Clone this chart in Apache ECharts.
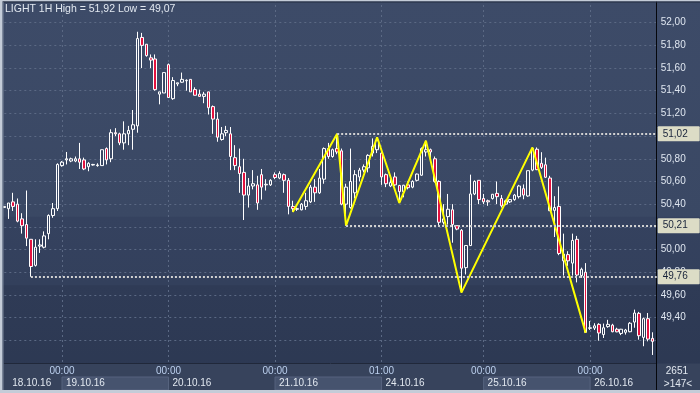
<!DOCTYPE html>
<html><head><meta charset="utf-8">
<script src="https://cdn.jsdelivr.net/npm/echarts@6/dist/echarts.min.js"></script>
<style>html,body{margin:0;padding:0;background:#37445f;}#c{width:700px;height:393px;}</style>
</head><body><div id="c"></div>
<script>
// ---- data ----
const dayNames = ['18.10.16','19.10.16','20.10.16','21.10.16','24.10.16','25.10.16','26.10.16'];
const dayStartIdx = [0, 13, 37, 61, 85, 108, 132];
const dayStartHour = [11, 0, 0, 0, 1, 0, 0];

const opens = [50.37,50.36,50.42,50.40,50.27,50.22,50.09,49.86,50.03,50.02,50.14,50.30,50.36,50.74,50.79,50.78,50.78,50.80,50.79,50.73,
50.745,50.74,50.74,50.89,50.80,51.03,51.02,50.94,51.02,51.06,51.09,51.87,51.81,51.69,51.68,51.37,51.38,51.63,51.33,51.46,
51.475,51.488,51.50,51.41,51.37,51.35,51.39,51.26,51.15,50.97,51.03,51.02,50.81,50.73,50.68,50.48,50.56,50.57,50.66,50.57,
50.57,50.66,50.63,50.66,50.61,50.38,50.36,50.35,50.38,50.42,50.55,50.50,50.62,50.89,50.82,50.89,50.87,50.40,50.37,50.50,
50.64,50.70,50.72,50.85,50.88,50.85,50.66,50.56,50.64,50.565,50.51,50.57,50.55,50.61,50.655,50.86,50.88,50.80,50.60,50.24,
50.29,50.35,50.21,50.17,49.84,50.035,50.49,50.61,50.45,50.43,50.45,50.495,50.45,50.40,50.42,50.44,50.466,50.536,50.472,50.70,
50.884,50.76,50.747,50.63,50.345,50.38,49.90,49.955,49.88,50.09,49.77,49.80,49.305,49.307,49.34,49.25,49.32,49.333,49.297,49.26,
49.27,49.275,49.36,49.437,49.225,49.39,49.216];
const highs = [50.38,50.41,50.50,50.45,50.32,50.52,50.09,50.09,50.09,50.16,50.31,50.41,50.76,50.78,50.86,50.81,50.82,50.94,50.81,50.77,
50.755,50.76,50.88,50.90,51.06,51.07,51.03,51.13,51.09,51.23,51.92,51.91,51.81,51.72,51.72,51.39,51.56,51.64,51.52,51.47,
51.56,51.50,51.50,51.43,51.41,51.39,51.39,51.27,51.21,51.08,51.09,51.08,50.92,50.89,50.80,50.63,50.70,50.65,50.71,50.62,
50.62,50.68,50.69,50.67,50.63,50.43,50.37,50.41,50.50,50.57,50.62,50.71,50.90,50.94,50.89,51.02,50.89,50.58,50.89,50.70,
50.72,50.75,50.84,50.98,50.99,50.88,50.67,50.62,50.68,50.57,50.57,50.60,50.61,50.67,50.90,50.96,50.89,50.82,50.61,50.40,
50.49,50.40,50.21,50.18,50.04,50.66,50.61,50.61,50.49,50.44,50.49,50.60,50.48,50.44,50.445,50.49,50.57,50.574,50.695,50.90,
50.90,50.858,50.81,50.65,50.47,50.556,50.14,49.985,50.14,50.12,49.84,49.88,49.37,49.35,49.35,49.347,49.38,49.345,49.31,49.30,
49.30,49.36,49.47,49.45,49.40,49.44,49.27];
const lows = [50.37,50.27,50.34,50.24,50.14,50.03,49.76,49.85,49.97,50.01,50.09,50.28,50.34,50.73,50.75,50.77,50.77,50.71,50.70,50.69,
50.74,50.73,50.74,50.75,50.77,51.00,50.92,50.88,50.92,50.88,51.03,51.60,51.70,51.60,51.40,51.28,51.38,51.34,51.32,51.44,
51.47,51.40,51.39,51.36,51.35,51.29,51.19,51.02,50.95,50.96,51.00,50.70,50.70,50.50,50.26,50.37,50.53,50.35,50.44,50.52,
50.56,50.62,50.62,50.50,50.31,50.33,50.34,50.345,50.35,50.41,50.42,50.49,50.58,50.80,50.81,50.84,50.39,50.21,50.36,50.45,
50.60,50.68,50.68,50.82,50.85,50.57,50.55,50.55,50.56,50.41,50.46,50.53,50.54,50.60,50.65,50.82,50.79,50.59,50.21,50.22,
50.22,50.06,50.17,49.62,49.78,50.03,50.48,50.40,50.40,50.385,50.44,50.40,50.37,50.39,50.41,50.43,50.45,50.443,50.465,50.69,
50.70,50.71,50.63,50.34,50.11,49.95,49.77,49.855,49.77,49.71,49.75,49.265,49.29,49.29,49.196,49.22,49.31,49.27,49.27,49.245,
49.25,49.27,49.31,49.205,49.147,49.19,49.07];
const closes = [50.38,50.41,50.38,50.25,50.21,50.10,49.85,50.02,50.04,50.12,50.30,50.36,50.75,50.77,50.80,50.80,50.80,50.77,50.71,50.76,
50.75,50.745,50.88,50.79,51.03,51.02,50.94,51.02,51.05,51.10,51.86,51.80,51.71,51.67,51.41,51.39,51.56,51.34,51.49,51.47,
51.50,51.492,51.39,51.36,51.35,51.37,51.25,51.15,50.99,51.02,51.05,50.82,50.74,50.67,50.48,50.56,50.58,50.41,50.55,50.575,
50.61,50.635,50.67,50.61,50.38,50.36,50.355,50.40,50.43,50.55,50.50,50.63,50.89,50.82,50.88,50.86,50.40,50.55,50.60,50.66,
50.70,50.73,50.83,50.91,50.96,50.64,50.58,50.59,50.57,50.51,50.567,50.545,50.60,50.665,50.89,50.88,50.86,50.60,50.24,50.27,
50.355,50.22,50.18,49.835,50.035,50.49,50.60,50.44,50.42,50.42,50.487,50.466,50.385,50.43,50.44,50.48,50.56,50.48,50.695,50.89,
50.704,50.724,50.637,50.342,50.37,49.965,49.96,49.90,50.08,49.775,49.826,49.27,49.31,49.327,49.264,49.31,49.34,49.275,49.274,49.297,
49.29,49.35,49.44,49.24,49.39,49.21,49.19];

// zigzag turning points (candle index + whether it uses the high or the low)
const zigIdx  = [65, 75, 77, 84, 89, 95, 103, 119, 131];
const zigType = ['L','H','L','H','L','H','L','H','L'];
// horizontal level lines (start candle + high/low)
const levelIdx  = [75, 77, 6];
const levelType = ['H','L','L'];

// ---- derived ----
const N = opens.length;
const SLOTS = N + 1;
const categories = [];
for (let i = 0; i < SLOTS; i++) {
  let d = dayStartIdx.length - 1;
  while (d > 0 && i < dayStartIdx[d]) d--;
  const h = dayStartHour[d] + i - dayStartIdx[d];
  categories.push(dayNames[d] + ' ' + String(h).padStart(2, '0') + ':00');
}
const candleData = opens.map((o, i) => [o, closes[i], lows[i], highs[i]]);
const fmt = v => v.toFixed(2).replace('.', ',');
const pick = (ix, t) => t === 'H' ? highs[ix] : lows[ix];
const zigData = zigIdx.map((ix, k) => [ix, pick(ix, zigType[k])]);
const dayStartSet = new Set(dayStartIdx);
const bands = [];
for (let d = 1; d + 1 < dayStartIdx.length; d += 2) bands.push([dayStartIdx[d], dayStartIdx[d + 1]]);

const FONT = 'Liberation Sans';
const tagLabel = (bg) => ({
  show: true, position: 'end', formatter: '{b}', distance: 1,
  backgroundColor: bg, color: '#18233a', fontSize: 10, fontFamily: FONT,
  padding: [3, 12, 2, 5], borderRadius: 1
});
const levelLines = levelIdx.map((ix, k) => {
  const v = pick(ix, levelType[k]);
  return [{ coord: [ix, v], name: fmt(v) }, { coord: [SLOTS - 1, v], name: fmt(v) }];
});
const lastClose = closes[N - 1];
levelLines.push([
  { coord: [N - 2, lastClose], name: fmt(lastClose), lineStyle: { opacity: 0 }, label: tagLabel('#b9c0cb') },
  { coord: [SLOTS - 1, lastClose], name: fmt(lastClose) }
]);
const hi = Math.max(...highs), lo = Math.min(...lows);

const chart = echarts.init(document.getElementById('c'), null, { renderer: 'canvas' });
chart.setOption({
  animation: false,
  backgroundColor: {
    type: 'linear', x: 0, y: 0, x2: 0, y2: 1,
    colorStops: [
      { offset: 0, color: '#3d4b68' }, { offset: 0.55, color: '#3a4864' },
      { offset: 0.553, color: '#35425f' }, { offset: 0.724, color: '#33405c' },
      { offset: 0.727, color: '#2f3b56' }, { offset: 1, color: '#2c3852' }
    ]
  },
  textStyle: { fontFamily: FONT },
  grid: [
    { left: 4.3, right: 43.3, top: -7.1, height: 392.7 },
    { left: 4.3, right: 43.3, top: 377, height: 13 }
  ],
  xAxis: [
    { type: 'category', gridIndex: 0, position: 'bottom', data: categories, boundaryGap: false, offset: -22.6, z: 0,
      axisLine: { show: true, lineStyle: { color: '#0b0f18', width: 1 } },
      axisTick: { show: false }, axisLabel: { show: false },
      splitLine: { show: true, interval: (i) => i > 0 && dayStartSet.has(i),
        lineStyle: { color: '#5b6984', type: [2, 3], width: 1 } } },
    { type: 'category', gridIndex: 0, position: 'bottom', data: categories, boundaryGap: false, offset: -22.6, z: 6,
      axisLine: { show: false }, axisTick: { show: false }, splitLine: { show: false },
      axisLabel: { show: true, interval: (i) => i > 0 && dayStartSet.has(i), margin: 3,
        formatter: v => v.split(' ')[1], color: '#bcd0ee', fontSize: 10, fontFamily: FONT } },
    { type: 'category', gridIndex: 0, position: 'bottom', data: categories, boundaryGap: false, offset: -22.6, z: 6,
      axisLine: { show: false }, axisTick: { show: false }, splitLine: { show: false },
      axisLabel: { show: true, interval: (i) => dayStartSet.has(i), margin: 15, align: 'left',
        formatter: (v, i) => (i === 0 ? '{a|' : '{b|') + v.split(' ')[0] + '}',
        rich: {
          a: { padding: [0, 0, 0, 8], color: '#e2e8f0', fontSize: 10, fontFamily: FONT },
          b: { padding: [0, 0, 0, 4], color: '#e2e8f0', fontSize: 10, fontFamily: FONT }
        } } },
    { type: 'category', gridIndex: 1, position: 'bottom', data: categories, boundaryGap: false, show: false }
  ],
  yAxis: [
    { type: 'value', gridIndex: 0, position: 'right', min: 48.8, max: 52.2, interval: 0.2,
      axisLine: { show: true, lineStyle: { color: '#05070c', width: 1 } },
      axisTick: { show: false },
      axisLabel: { color: '#dfe6f0', fontSize: 10, fontFamily: FONT, margin: 4,
        formatter: v => (v < 49.3 || v > 52.05) ? '' : fmt(v) },
      splitLine: { show: true, lineStyle: { color: '#5b6984', type: [2, 3], width: 1 } } },
    { type: 'value', gridIndex: 1, min: 0, max: 1, show: false }
  ],
  series: [
    { type: 'candlestick', xAxisIndex: 0, yAxisIndex: 0, data: candleData, barWidth: 3, z: 2,
      itemStyle: { color: 'transparent', color0: '#e3123f', borderColor: '#ffffff', borderColor0: '#ffffff',
        borderColorDoji: '#ffffff', borderWidth: 1 },
      markLine: { symbol: ['none', 'none'], silent: true, animation: false,
        lineStyle: { color: '#d2d2d2', type: [2, 2], width: 2 },
        label: tagLabel('#dcdcc6'), emphasis: { disabled: true },
        data: levelLines } },
    { type: 'line', xAxisIndex: 0, yAxisIndex: 0, data: zigData, symbol: 'none', z: 3,
      lineStyle: { color: '#ffff00', width: 2 }, silent: true },
    { type: 'line', xAxisIndex: 3, yAxisIndex: 1, data: categories.map(() => '-'), symbol: 'none', z: 3,
      silent: true,
      markArea: { silent: true, itemStyle: { color: '#46536e', borderColor: '#56637e', borderWidth: 1 },
        data: bands.map(b => [{ xAxis: b[0] }, { xAxis: b[1] }]) } }
  ],
  graphic: [
    { type: 'rect', shape: { x: 3, y: 363.5, width: 697, height: 27 }, style: { fill: '#37435c' }, z: 1 },
    { type: 'rect', shape: { x: 0, y: 0, width: 700, height: 1.5 }, style: { fill: '#c4ccd8' }, z: 20 },
    { type: 'rect', shape: { x: 0, y: 1.5, width: 700, height: 1 }, style: { fill: '#242e40' }, z: 20 },
    { type: 'rect', shape: { x: 0, y: 0, width: 2.5, height: 393 }, style: { fill: '#c4ccd8' }, z: 20 },
    { type: 'rect', shape: { x: 2.5, y: 2, width: 1, height: 389 }, style: { fill: '#7d889c' }, z: 20 },
    { type: 'rect', shape: { x: 0, y: 390, width: 700, height: 3 }, style: { fill: '#c4ccd8' }, z: 20 },
    { type: 'rect', shape: { x: 656, y: 363, width: 1, height: 27 }, style: { fill: '#05070c' }, z: 20 },
    { type: 'text', x: 5, y: 4, style: { text: 'LIGHT 1H High = ' + fmt(hi) + ' Low = ' + fmt(lo),
        fill: '#e2e8f0', font: '10.5px "' + FONT + '"' }, z: 20 },
    { type: 'text', x: 688, y: 366, style: { text: '2651', fill: '#e2e8f0', font: '10px "' + FONT + '"', align: 'right' }, z: 20 },
    { type: 'text', x: 678, y: 379, style: { text: '>147<', fill: '#e2e8f0', font: '10px "' + FONT + '"', align: 'center' }, z: 20 }
  ]
});
</script></body></html>
